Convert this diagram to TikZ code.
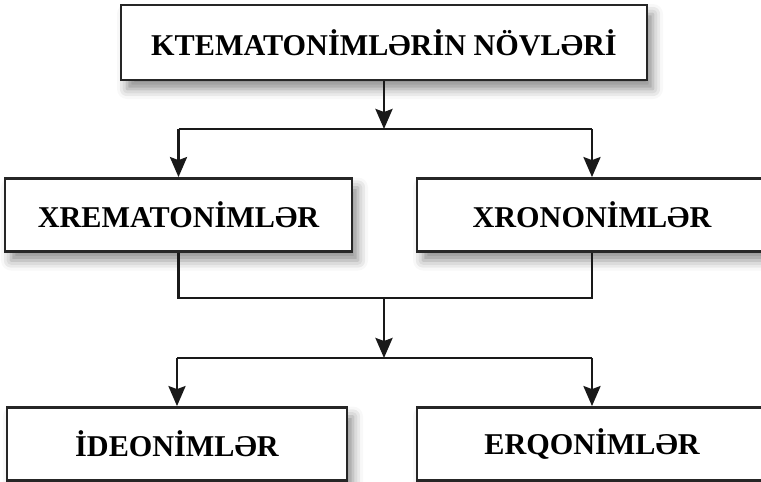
\documentclass[tikz,border=0pt]{standalone}
\usepackage{fontspec}
\setmainfont{Liberation Serif}
\usetikzlibrary{arrows.meta,shadows.blur}
\begin{document}
\begin{tikzpicture}[x=1pt,y=-1pt,
  box/.style={draw=black!85, line width=2.8pt, fill=white, rectangle, inner sep=0pt,
    font=\fontsize{30.2}{36}\selectfont\bfseries,
    blur shadow={shadow xshift=6pt, shadow yshift=-9pt, shadow blur radius=10pt, shadow opacity=45}},
  conn/.style={draw=black!90, line width=2.8pt},
  arr/.style={conn, -{Stealth[length=20pt,width=17pt,inset=3pt]}}]
\useasboundingbox (0,0) rectangle (761,482);
\node[box, minimum width=526pt, minimum height=75pt] (top) at (384,42.5) {KTEMATONİMLƏRİN NÖVLƏRİ};
\node[box, minimum width=347pt, minimum height=73pt] (b2) at (178.5,215) {XREMATONİMLƏR};
\node[box, minimum width=350pt, minimum height=73pt] (b3) at (592,215) {XRONONİMLƏR};
\node[box, minimum width=340pt, minimum height=73pt] (b4) at (177,444) {İDEONİMLƏR};
\node[box, minimum width=350pt, minimum height=73pt] (b5) at (592,444) {ERQONİMLƏR};
\coordinate (j1) at (384,129);
\coordinate (j2) at (384,298);
\coordinate (j3) at (384,358);
\draw[arr] (top.south) -- (j1);
\draw[conn] (b2.north |- j1) -- (b3.north |- j1);
\draw[arr] (b2.north |- j1) -- (b2.north);
\draw[arr] (b3.north |- j1) -- (b3.north);
\draw[conn] (b2.south) -- (b2.south |- j2) -- (b3.south |- j2) -- (b3.south);
\draw[arr] (j2) -- (j3);
\draw[conn] (b4.north |- j3) -- (b5.north |- j3);
\draw[arr] (b4.north |- j3) -- (b4.north);
\draw[arr] (b5.north |- j3) -- (b5.north);
\end{tikzpicture}
\end{document}
